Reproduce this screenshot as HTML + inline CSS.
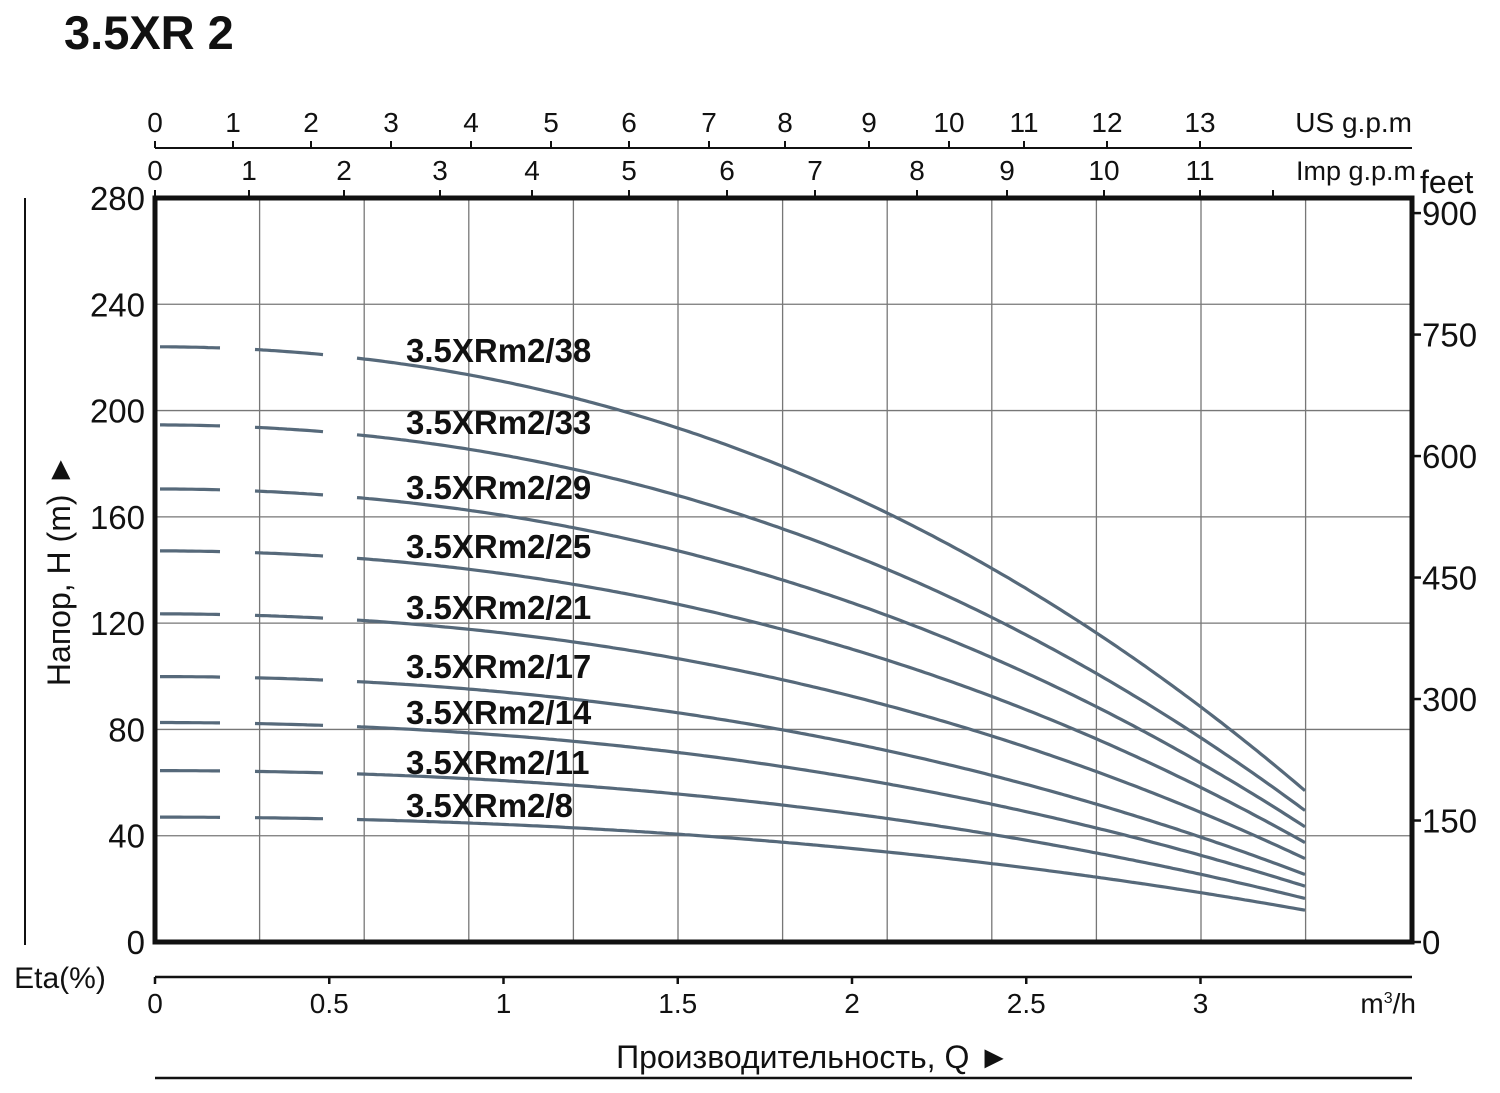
<!DOCTYPE html>
<html><head><meta charset="utf-8"><style>
html,body{margin:0;padding:0;background:#fff;}
svg{display:block;}
text{font-family:"Liberation Sans Narrow","Liberation Sans",sans-serif;fill:#111;}
</style></head><body>
<svg id="s" width="1500" height="1093" viewBox="0 0 1500 1093" xmlns="http://www.w3.org/2000/svg">
<text x="64" y="49" font-size="47" font-weight="bold" font-family="Liberation Sans, sans-serif">3.5XR 2</text>
</svg>
<script>
const s=document.getElementById('s');let h='';
const L=(x1,y1,x2,y2,w,c)=>h+=`<line x1="${x1}" y1="${y1}" x2="${x2}" y2="${y2}" stroke="${c||'#111'}" stroke-width="${w}"/>`;
const T=(x,y,t,fs,a,extra)=>h+=`<text x="${x}" y="${y}" font-size="${fs}" text-anchor="${a||'middle'}" ${extra||''}>${t}</text>`;
const X0=155,X1=1412,Y0=942,Y1=198,py=(942-198)/280,px=348.5;
for(let i=1;i<12;i++){const x=X0+i*104.6;L(x,Y1,x,Y0,1.3,'#777');}
for(let v=40;v<280;v+=40){const y=Y0-v*py;L(X0,y,X1,y,1.3,'#777');}
for(let v=0;v<=280;v+=40){T(145,Y0-v*py+12,v,33,'end');}
for(let f=0;f<=900;f+=150){const y=Y0-f*0.3048*py;L(X1,y,X1+9,y,2.5);T(1422,y+12,f,33,'start');}
T(1420,193,'feet',32,'start');
L(X0,148,X1,148,2);
const us=[155,233,311,391,471,551,629,709,785,869,949,1024,1107,1200];
us.forEach((x,i)=>{L(x,141,x,148,2);T(x,132,i,28);});
T(1412,132,'US g.p.m',28,'end');
const imp=[155,249,344,440,532,629,727,815,917,1007,1104,1200,1273];
imp.forEach((x,i)=>{L(x,190,x,198,2);if(i<12)T(x,180,i,28);});
T(1416,180,'Imp g.p.m',27,'end');
L(X0,977,X1,977,2.5);
['0','0.5','1','1.5','2','2.5','3'].forEach((t,i)=>{const x=X0+i*0.5*px;L(x,977,x,984,2.5);T(x,1013,t,28);});
T(1416,1013,'m<tspan font-size="16" dy="-10">3</tspan><tspan dy="10">/h</tspan>',28,'end');
T(813,1068,'Производительность, Q ►',32);
L(X0,1078,X1,1078,2.5);
T(60,988,'Eta(%)',30);
L(25,198,25,945,2);
T(0,0,'Напор, H (m) ►',32,'middle','transform="translate(70,570) rotate(-90)"');
const f=q=>1-0.0541*q*q-0.00436*q*q*q;
const H=[[224,'38',350],[194.6,'33',422],[170.5,'29',487],[147.2,'25',546],[123.5,'21',607],[99.9,'17',666],[82.6,'14',712],[64.5,'11',762],[47,'8',805]];
H.forEach(([h0,n,ly])=>{
 const seg=(a,b)=>{let d='';for(let x=a;x<=b;x+=4){const q=(x-X0)/px;d+=(d?'L':'M')+x+' '+(Y0-h0*f(q)*py).toFixed(1);}h+=`<path d="${d}" fill="none" stroke="#56697a" stroke-width="3.2"/>`;};
 seg(160,223);seg(255,323);seg(357,1305);
 T(406,ly+12,'3.5XRm2/'+n,33,'start','font-weight="bold"');
});
h+=`<rect x="${X0}" y="${Y1}" width="${X1-X0}" height="${Y0-Y1}" fill="none" stroke="#111" stroke-width="5"/>`;
s.insertAdjacentHTML('beforeend',h);
</script>
</body></html>
